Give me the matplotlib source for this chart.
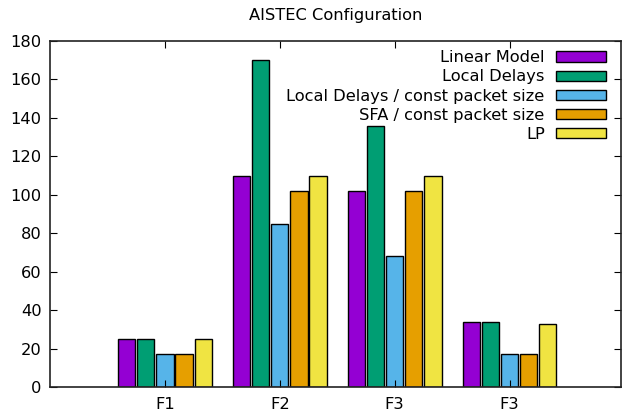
import matplotlib.pyplot as plt
import numpy as np

# data
groups = ['F1', 'F2', 'F3', 'F3']
series = ['Linear Model', 'Local Delays', 'Local Delays / const packet size',
          'SFA / const packet size', 'LP']
linear_model = [25, 110, 102, 34]
local_delays = [25, 170, 136, 34]
local_const = [17, 85, 68, 17]
sfa_const = [17, 102, 102, 17]
lp = [25, 110, 110, 33]
values = [linear_model, local_delays, local_const, sfa_const, lp]
colors = ['#9400D3', '#009E73', '#56B4E9', '#E69F00', '#F0E442']

fs = 11.7
plt.rcParams['font.family'] = 'DejaVu Sans'
plt.rcParams['font.size'] = fs

fig = plt.figure(figsize=(6.23, 4.15), dpi=100)
ax = fig.add_axes([50 / 623, 1 - 387 / 415, 571 / 623, 346 / 415])

x = np.arange(len(groups))
# gnuplot style clustered histogram: 5 boxes + 1 gap per cluster
pitch = 1 / 6
for i, (name, vals, c) in enumerate(zip(series, values, colors)):
    ax.bar(x + (i - 2) * pitch, vals, width=0.9 * pitch, color=c,
           edgecolor='black', linewidth=1, label=name)

ax.set_xlim(-1, 3.97)
ax.set_ylim(0, 180)
ax.set_yticks(range(0, 181, 20))
ax.set_xticks(x)
ax.set_xticklabels(groups)
ax.tick_params(direction='in', length=5, width=0.8, top=True, right=True,
               labelsize=fs, pad=6)
ax.tick_params(axis='x', pad=7)
for s in ax.spines.values():
    s.set_linewidth(1.2)
    s.set_color('#222222')

ax.set_title('AISTEC Configuration', fontsize=fs, pad=15)

ax.legend(loc='upper right', bbox_to_anchor=(1 - 9.7 / 571, 1 - 4.5 / 346),
          markerfirst=False, frameon=False,
          handlelength=3.1, handleheight=0.6, handletextpad=0.7,
          labelspacing=0.25, borderaxespad=0, borderpad=0.3,
          fontsize=fs)

fig.savefig('out.png', dpi=100)
